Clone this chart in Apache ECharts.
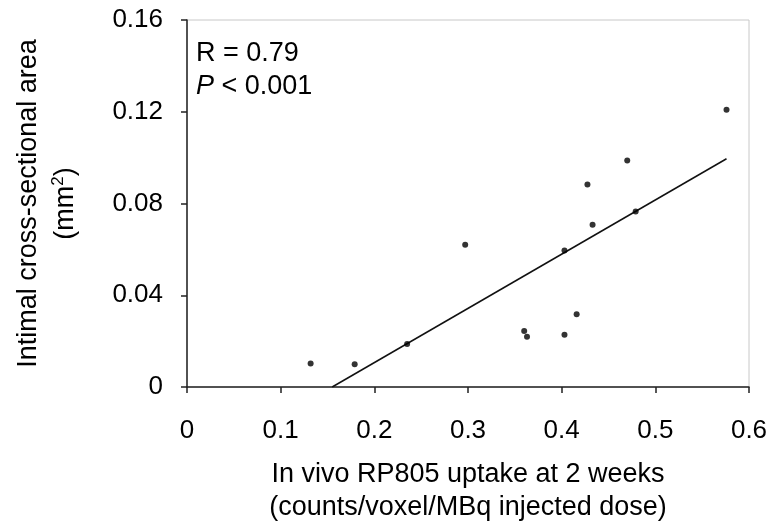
<!DOCTYPE html>
<html>
<head>
<meta charset="utf-8">
<script src="https://cdn.jsdelivr.net/npm/echarts@6/dist/echarts.min.js"></script>
<style>
  html, body { margin: 0; padding: 0; background: #fff; }
  #main { width: 773px; height: 527px; }
</style>
</head>
<body>
<div id="main"></div>
<script>
// 数据：摄取量 vs 内膜面积
var uptake = [0.132, 0.179, 0.235, 0.297, 0.360, 0.363, 0.403, 0.403, 0.416, 0.4275, 0.433, 0.470, 0.479, 0.576]
var area = [0.0102, 0.0099, 0.0188, 0.0620, 0.0244, 0.0219, 0.0228, 0.0595, 0.0317, 0.0883, 0.0707, 0.0987, 0.0765, 0.1209]
// 回归线两端
var fitX = [0.155, 0.576]
var fitY = [0, 0.0995]
var xTicks = [0, 0.1, 0.2, 0.3, 0.4, 0.5, 0.6]
var yTicks = [0, 0.04, 0.08, 0.12, 0.16]

var myChart = echarts.init(document.getElementById('main'))

var font = 'Liberation Sans, Arial, sans-serif'

var option = {
  backgroundColor: '#fff',
  animation: false,
  grid: {
    left: 187,
    right: 24,
    top: 20,
    bottom: 140,
    outerBoundsMode: 'none',
    containLabel: false,
    show: true,
    borderColor: '#c8c8c8',
    borderWidth: 1
  },
  xAxis: {
    type: 'value',
    min: xTicks[0],
    max: xTicks[xTicks.length - 1],
    interval: 0.1,
    name: 'In vivo RP805 uptake at 2 weeks\n(counts/voxel/MBq injected dose)',
    nameLocation: 'middle',
    nameGap: 71,
    nameTextStyle: { fontFamily: font, fontSize: 27, color: '#000', lineHeight: 33 },
    axisLine: { lineStyle: { color: '#222', width: 1.5 } },
    axisTick: { inside: false, length: 6, lineStyle: { color: '#222', width: 1.5 } },
    axisLabel: {
      fontFamily: font, fontSize: 26, color: '#000', margin: 31,
      formatter: function (v) { return String(+v.toFixed(2)) }
    },
    splitLine: { show: false }
  },
  yAxis: {
    type: 'value',
    min: yTicks[0],
    max: yTicks[yTicks.length - 1],
    interval: 0.04,
    name: 'Intimal cross-sectional area\n{a|(mm}{s|2}{a|)}',
    nameLocation: 'middle',
    nameRotate: 90,
    nameGap: 103,
    nameTextStyle: {
      fontFamily: font, fontSize: 27, color: '#000', lineHeight: 37,
      rich: {
        a: { fontFamily: font, fontSize: 27, color: '#000', lineHeight: 37 },
        s: { fontFamily: font, fontSize: 17, color: '#000', lineHeight: 37, padding: [0, 0, 14, 0] }
      }
    },
    axisLine: { lineStyle: { color: '#222', width: 1.5 } },
    axisTick: { inside: false, length: 6, lineStyle: { color: '#222', width: 1.5 } },
    axisLabel: {
      fontFamily: font, fontSize: 26, color: '#000', margin: 24,
      formatter: function (v) { return String(+v.toFixed(2)) }
    },
    splitLine: { show: false }
  },
  graphic: [{
    type: 'text',
    left: 196,
    top: 40,
    style: {
      text: '{n|R = 0.79}\n{i|P}{n| < 0.001}',
      rich: {
        n: { fontFamily: font, fontSize: 27, fill: '#000', lineHeight: 33 },
        i: { fontFamily: font, fontSize: 27, fontStyle: 'italic', fill: '#000', lineHeight: 33 }
      }
    }
  }],
  series: [{
      name: 'fit',
      type: 'line',
      data: fitX.map(function (x, i) { return [x, fitY[i]] }),
      showSymbol: false,
      lineStyle: { color: '#111', width: 1.5 },
      z: 2
    },
    {
      name: 'points',
      type: 'scatter',
      data: uptake.map(function (x, i) { return [x, area[i]] }),
      symbolSize: 6,
      itemStyle: { color: '#000' },
      z: 3
    }
  ]
}

myChart.setOption(option)
</script>
</body>
</html>
